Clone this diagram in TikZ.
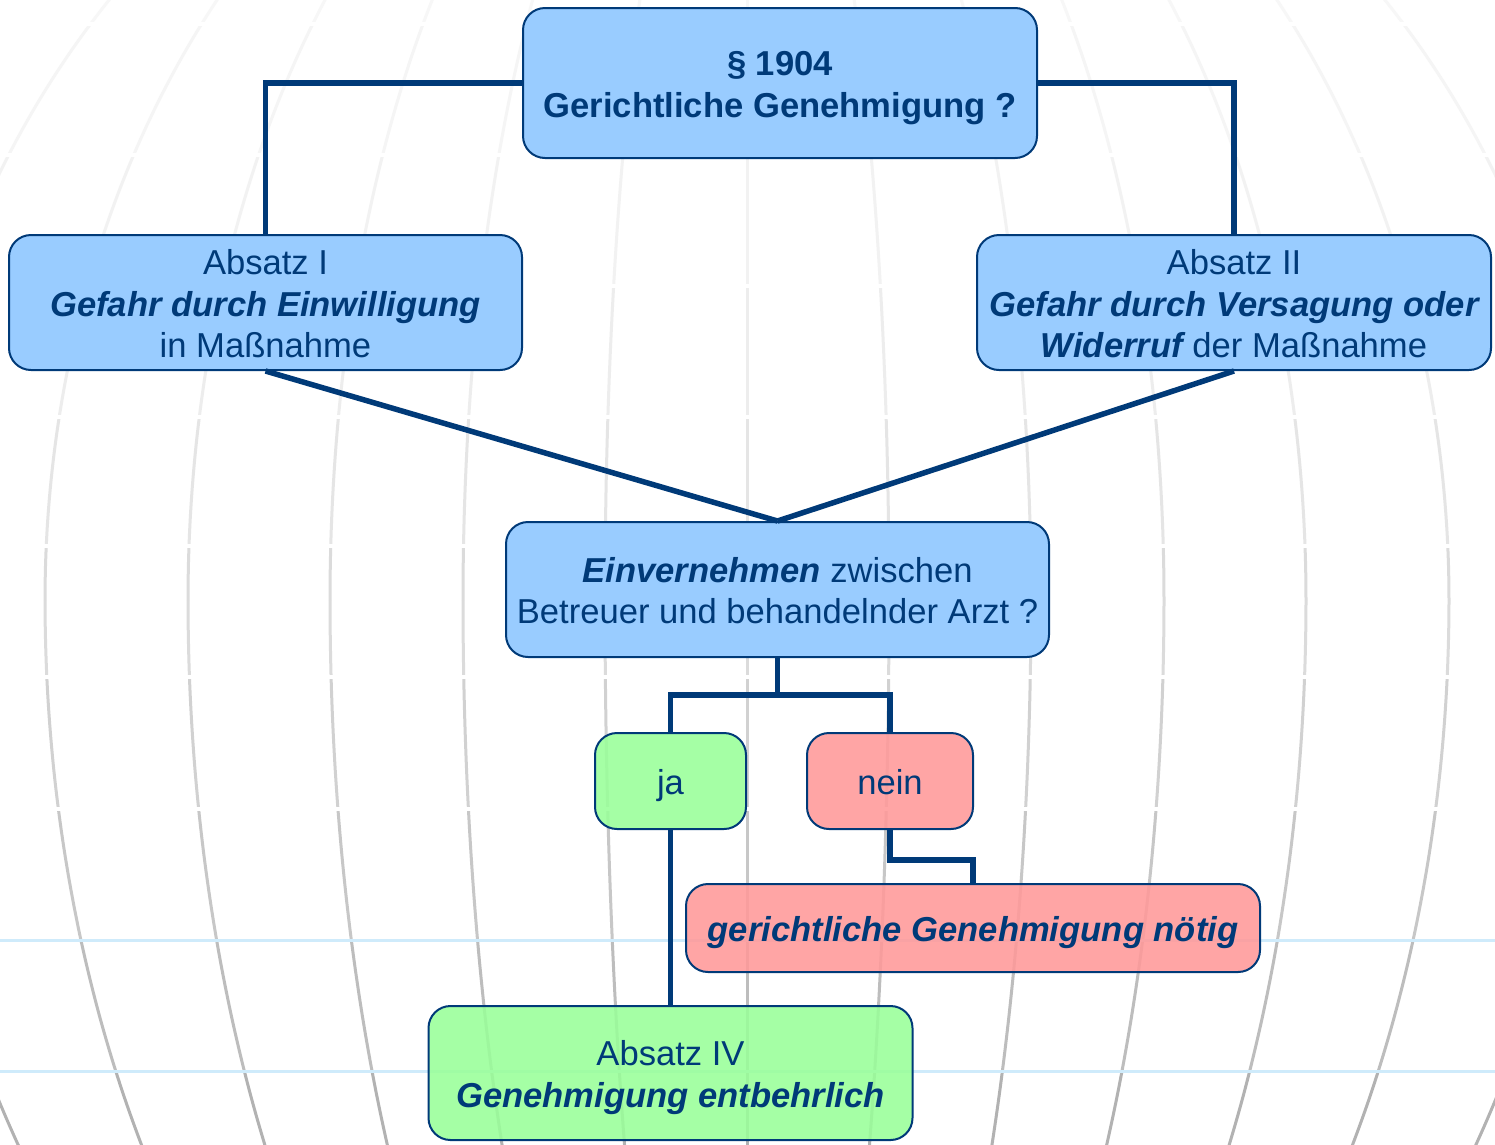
\documentclass[tikz,border=0pt]{standalone}
\usepackage{fontspec}
\setmainfont{Liberation Sans}
\definecolor{navy}{HTML}{003A78}
\definecolor{boxblue}{HTML}{99CCFF}
\definecolor{okgreen}{HTML}{99FF99}
\definecolor{nored}{HTML}{FF9999}
\definecolor{latblue}{HTML}{CFEBFB}
\newcommand\drawmeridians[1]{%
  \foreach \a in {-845,-702,-559,-417,-284,-142,0,142,284,417,559,702,845}{%
    \draw[#1, line width=3pt] plot[domain=42:0, samples=40, smooth] ({747+\a*cos(\x)},{600-915*sin(\x)});
    \draw[#1, line width=3pt] plot[domain=0:32, samples=40, smooth] ({747+\a*cos(\x)},{600+1077*sin(\x)});
  }}
\newcommand\bi[1]{{\bfseries\itshape #1}}
\newcommand\tstrut{\rule{0pt}{34.3pt}}
\newcommand\bstrut{\rule[-7.3pt]{0pt}{7.3pt}}
\tikzset{
  box/.style={draw=navy, line width=2pt, rounded corners=22pt, inner sep=0pt,
    align=center, text=navy, font=\fontsize{34.6}{41.5}\selectfont},
  glass/.style={fill opacity=0.88, text opacity=1},
  conn/.style={draw=navy, line width=5.5pt},
}
\begin{document}
\begin{tikzpicture}[x=1pt,y=-1pt]
\useasboundingbox (0,0) rectangle (1495,1144);
\fill[white] (0,0) rectangle (1495,1144);
\begin{scope}
\clip (0,0) rectangle (1495,1144);
\foreach \ya/\yb/\g in {0/24/3,24/155/4,155/286/5,286/417/7,417/546/10,546/677/14,677/809/18,809/940/22,940/1071/26,1071/1144/30}{%
  \begin{scope}
  \clip (-10,\ya) rectangle (1505,\yb);
  \drawmeridians{black!\g}
  \end{scope}
}
\foreach \y in {24,155,286,417,546,677,809}{\draw[white, line width=4pt] (0,\y) -- (1495,\y);}
\draw[latblue, line width=3pt] (0,940) -- (1495,940);
\draw[latblue, line width=3pt] (0,1071) -- (1495,1071);
\end{scope}

\node[box, fill=boxblue, minimum width=514pt, minimum height=150pt] (top) at (780,83)
  {\tstrut\textbf{§ 1904}\\\textbf{Gerichtliche Genehmigung ?}\bstrut};
\node[box, fill=boxblue, minimum width=513pt, minimum height=135pt] (abs1) at (265.5,302.5)
  {\tstrut Absatz I\\\bi{Gefahr durch Einwilligung}\\in Maßnahme\bstrut};
\node[box, fill=boxblue, minimum width=514pt, minimum height=135pt] (abs2) at (1234,302.5)
  {\tstrut Absatz II\\\bi{Gefahr durch Versagung oder}\\\bi{Widerruf} der Maßnahme\bstrut};
\node[box, fill=boxblue, minimum width=543pt, minimum height=135pt] (einv) at (777.5,589.5)
  {\tstrut\bi{Einvernehmen} zwischen\\Betreuer und behandelnder Arzt ?\bstrut};
\node[box, glass, fill=okgreen, minimum width=151pt, minimum height=96pt] (ja) at (670.5,781) {\tstrut ja\bstrut};
\node[box, glass, fill=nored, minimum width=166pt, minimum height=96pt] (nein) at (890,781) {\tstrut nein\bstrut};
\node[box, glass, fill=nored, minimum width=574pt, minimum height=88pt] (ger) at (973,928)
  {\tstrut\bi{gerichtliche Genehmigung nötig}\bstrut};
\node[box, glass, fill=okgreen, minimum width=484pt, minimum height=134pt] (abs4) at (670.5,1073)
  {\tstrut Absatz IV\\\bi{Genehmigung entbehrlich}\bstrut};

\coordinate (split) at (777.5,695);
\coordinate (nbend) at (973,860);
\draw[conn] (top.west) -| (abs1.north);
\draw[conn] (top.east) -| (abs2.north);
\draw[conn] (abs1.south) -- (einv.north);
\draw[conn] (abs2.south) -- (einv.north);
\draw[conn] (einv.south) -- (split);
\draw[conn] (ja.north) |- (split) -| (nein.north);
\draw[conn] (nein.south) |- (nbend) -- (ger.north);
\draw[conn] (ja.south) -- (abs4.north);
\end{tikzpicture}
\end{document}
